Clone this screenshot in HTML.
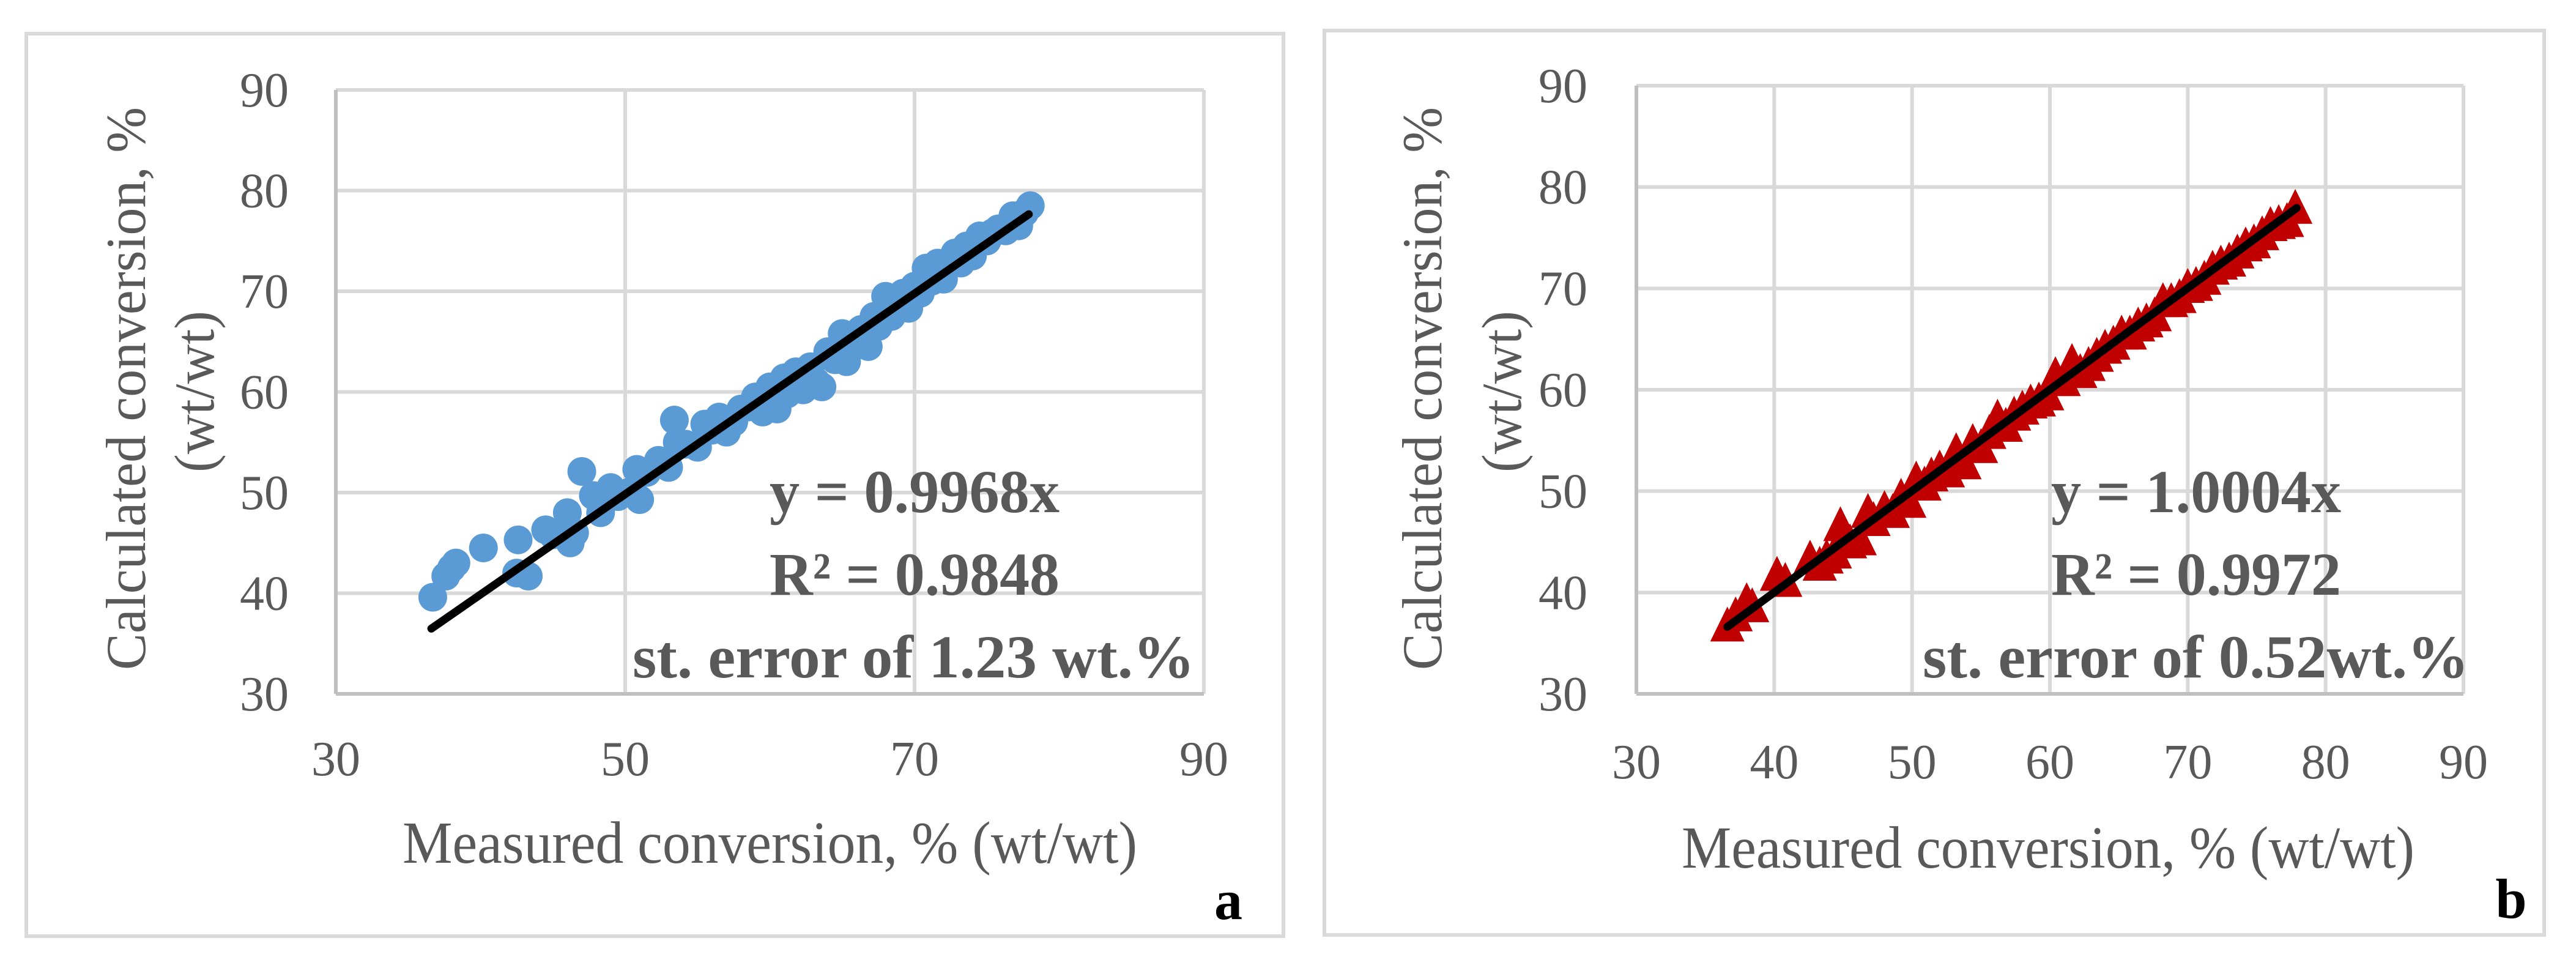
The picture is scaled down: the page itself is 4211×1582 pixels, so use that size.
<!DOCTYPE html>
<html><head><meta charset="utf-8"><style>
html,body{margin:0;padding:0;background:#fff;}
svg{display:block;}
text{font-family:"Liberation Serif",serif;fill:#595959;}
</style></head><body>
<svg id="root" width="4211" height="1582" viewBox="0 0 4211 1582" xmlns="http://www.w3.org/2000/svg">
<rect x="0" y="0" width="4211" height="1582" fill="#fff"/>
<g id="pa"></g>
<g id="pb"></g>
</svg>
<script>
// Panel a data (measured vs calculated)
const aX = [36.7,37.6,38.0,38.3,40.2,42.6,42.5,43.3,44.5,45.0,46.0,46.2,46.5,47.0,47.8,48.3,49.0,49.5,50.2,50.8,51.0,51.5,52.3,53.0,53.4,53.6,54.2,55.0,55.5,56.0,56.5,57.0,57.5,58.0,58.5,59.0,59.5,60.0,60.5,61.0,61.2,61.8,62.3,62.8,63.2,63.6,64.0,64.5,65.0,65.3,65.8,66.3,66.8,67.2,67.5,68.0,68.4,68.8,69.2,69.6,70.0,70.4,70.8,71.2,71.6,72.0,72.4,72.8,73.2,73.6,74.0,74.5,75.0,75.4,75.8,76.3,76.8,77.2,77.6,78.0];
const aY = [39.6,41.7,42.5,43.0,44.5,45.3,42.0,41.7,46.3,45.8,48.0,45.0,46.0,52.1,49.7,48.0,50.5,49.6,50.0,52.3,49.3,52.0,53.2,52.5,57.2,55.0,54.8,54.5,56.8,56.2,57.5,56.0,57.0,58.3,58.5,59.5,58.0,60.5,58.3,61.4,59.8,62.0,60.2,62.5,61.0,60.5,64.0,63.2,65.8,63.0,65.5,66.2,64.5,67.5,66.5,69.5,67.5,68.8,69.8,68.3,70.5,69.8,72.3,71.0,72.8,71.2,73.0,73.8,72.8,74.5,73.5,75.5,75.0,75.8,76.2,76.0,77.5,76.5,77.8,78.5];
// Panel b data
const bX = [36.6,37.2,38.0,38.4,40.2,40.8,42.6,43.3,43.8,44.4,44.8,45.5,46.2,46.8,47.2,48.0,48.6,49.2,49.8,50.3,50.9,51.4,52.0,52.6,53.2,53.8,54.4,55.0,55.6,56.2,56.8,57.4,58.0,58.6,59.2,59.8,60.4,61.0,61.6,62.2,62.8,63.4,64.0,64.6,65.2,65.8,66.4,67.0,67.6,68.2,68.8,69.4,70.0,70.6,71.2,71.8,72.4,73.0,73.6,74.2,74.8,75.4,76.0,76.6,77.2,77.8];
const bY = [36.8,37.8,39.2,38.7,41.8,41.2,43.4,42.8,43.5,44.0,46.7,45.0,45.3,48.0,47.2,48.3,48.0,49.5,49.0,51.2,50.7,51.6,52.3,52.0,54.0,52.8,54.9,54.4,55.8,57.3,56.5,57.6,58.2,58.8,59.0,59.6,61.5,61.0,62.8,61.8,62.5,63.4,64.2,64.6,65.6,65.6,66.4,66.8,67.4,68.8,68.8,69.2,70.2,70.4,71.0,72.0,72.5,72.8,73.6,74.3,74.6,75.4,76.3,76.5,76.7,78.0];
const aXTicks = [30,50,70,90];
const bXTicks = [30,40,50,60,70,80,90];
const yTicks = [30,40,50,60,70,80,90];
const aSlope = 0.9968, bSlope = 1.0004;
const aLabels = ["y = 0.9968x","R² = 0.9848","st. error of 1.23 wt.%"];
const bLabels = ["y = 1.0004x","R² = 0.9972","st. error of 0.52wt.%"];

const NS="http://www.w3.org/2000/svg";
function mk(parent,tag,attrs,txt){const e=document.createElementNS(NS,tag);for(const k in attrs)e.setAttribute(k,attrs[k]);if(txt!==undefined)e.textContent=txt;parent.appendChild(e);return e;}

function panel(g,cfg){
  const sx=v=>cfg.x0+(v-30)/60*(cfg.x1-cfg.x0);
  const sy=v=>cfg.y1-(v-30)/60*(cfg.y1-cfg.y0);
  const b=mk(g,'rect',{x:cfg.bx0,y:cfg.by0,width:cfg.bx1-cfg.bx0,height:cfg.by1-cfg.by0,fill:'#fff',stroke:'#d9d9d9','stroke-width':6});
  
  
  yTicks.forEach(t=>{
    if(t>30){const l=mk(g,'line',{x1:cfg.x0,x2:cfg.x1,y1:sy(t),y2:sy(t),stroke:'#d9d9d9','stroke-width':6});
    
    }
    const tx=mk(g,'text',{x:cfg.ylx,y:sy(t)+27,'font-size':80,'text-anchor':'end'},String(t));
    
    
  });
  cfg.xt.forEach(t=>{
    if(t>30){const l=mk(g,'line',{x1:sx(t),x2:sx(t),y1:cfg.y0,y2:cfg.y1,stroke:'#d9d9d9','stroke-width':6});
    
    }
    const tx=mk(g,'text',{x:sx(t),y:cfg.xly,'font-size':80,'text-anchor':'middle'},String(t));
    
    
  });
  const ax=mk(g,'line',{x1:cfg.x0,x2:cfg.x1,y1:cfg.y1,y2:cfg.y1,stroke:'#bfbfbf','stroke-width':6});
  
  
  const ay=mk(g,'line',{x1:cfg.x0,x2:cfg.x0,y1:cfg.y0,y2:cfg.y1,stroke:'#bfbfbf','stroke-width':6});
  
  
  cfg.xs.forEach((v,i)=>{
    const cx=sx(v),cy=sy(cfg.ys[i]);let m;
    if(cfg.tri){m=mk(g,'polygon',{points:`${cx},${cy-30} ${cx-28},${cy+27} ${cx+28},${cy+27}`,fill:'#c00000'});}
    else{m=mk(g,'circle',{cx:cx,cy:cy,r:23.5,fill:'#5b9bd5'});}
    
    
  });
  const tl=mk(g,'line',{x1:sx(36.6),y1:sy(36.6*cfg.slope),x2:sx(77.9),y2:sy(77.9*cfg.slope),stroke:'#000','stroke-width':13,'stroke-linecap':'round'});
  
  
  const t1=mk(g,'text',{x:0,y:0,'font-size':92,'text-anchor':'middle',textLength:920,lengthAdjust:'spacingAndGlyphs',transform:`translate(${cfg.yt1},635) rotate(-90)`},'Calculated conversion, %');
  
  
  const t2=mk(g,'text',{x:0,y:0,'font-size':92,'text-anchor':'middle',textLength:264,lengthAdjust:'spacingAndGlyphs',transform:`translate(${cfg.yt2},640) rotate(-90)`},'(wt/wt)');
  
  
  const xt=mk(g,'text',{x:cfg.xtx0,y:cfg.xty,'font-size':98,textLength:cfg.xtw,lengthAdjust:'spacingAndGlyphs'},'Measured conversion, % (wt/wt)');
  
  
  const lbl=cfg.labels;
  const a1=mk(g,'text',{x:cfg.a1x,y:837,'font-size':100,'font-weight':'bold',textLength:474,lengthAdjust:'spacingAndGlyphs'},lbl[0]);
  
  
  const a2=mk(g,'text',{x:cfg.a1x,y:972,'font-size':100,'font-weight':'bold',textLength:474,lengthAdjust:'spacingAndGlyphs'},lbl[1]);
  
  
  const a3=mk(g,'text',{x:cfg.a3x,y:1107,'font-size':100,'font-weight':'bold',textLength:cfg.a3w,lengthAdjust:'spacingAndGlyphs'},lbl[2]);
  
  
  const pl=mk(g,'text',{x:cfg.plx,y:cfg.ply,'font-size':92,'font-weight':'bold','text-anchor':'middle',style:'fill:#000'},cfg.pl);
  
  
}
panel(document.getElementById('pa'),{bx0:43,by0:55,bx1:2098,by1:1530,x0:549,x1:1968,y0:147,y1:1134,ylx:472,xly:1267,xt:aXTicks,xs:aX,ys:aY,tri:false,slope:aSlope,yt1:237,yt2:349,xtx0:658,xty:1410,xtw:1201,labels:aLabels,a1x:1258,a3x:1034,a3w:919,pl:'a',plx:2008,ply:1502});
panel(document.getElementById('pb'),{bx0:2165,by0:50,bx1:4159,by1:1528,x0:2675,x1:4027,y0:140,y1:1134,ylx:2595,xly:1272,xt:bXTicks,xs:bX,ys:bY,tri:true,slope:bSlope,yt1:2356,yt2:2486,xtx0:2749,xty:1418,xtw:1198,labels:bLabels,a1x:3353,a3x:3143,a3w:893,pl:'b',plx:4105,ply:1500});
</script>
</body></html>
